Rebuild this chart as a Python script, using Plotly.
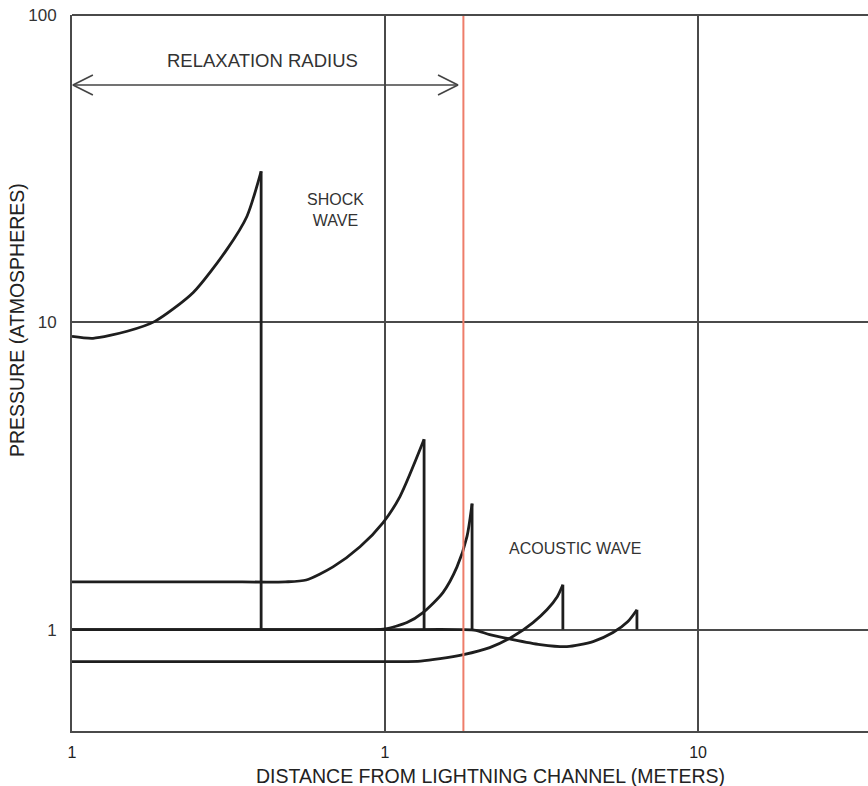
import plotly.graph_objects as go

# Pressure profiles behind the lightning shock (distance in metres, pressure in atm)
shock_x = [0.100, 0.1167, 0.150, 0.184, 0.244, 0.313, 0.362, 0.402]
shock_p = [9.0, 8.87, 9.35, 10.07, 12.5, 17.3, 22.1, 31.0]

second_x = [0.100, 0.30, 0.48, 0.560, 0.682, 0.832, 0.986, 1.116, 1.333]
second_p = [1.43, 1.43, 1.43, 1.45, 1.60, 1.86, 2.23, 2.71, 4.16]

third_x = [0.100, 0.50, 0.90, 1.0, 1.175, 1.322, 1.531, 1.698, 1.828, 1.897]
third_p = [1.0, 1.0, 1.0, 1.005, 1.054, 1.136, 1.32, 1.60, 2.01, 2.57]

acoustic1_x = [0.100, 0.60, 1.10, 1.30, 1.50, 1.78, 2.16, 2.56, 2.97, 3.29, 3.55, 3.70]
acoustic1_p = [0.787, 0.787, 0.787, 0.790, 0.804, 0.829, 0.874, 0.949, 1.054, 1.16, 1.28, 1.40]

acoustic2_x = [0.100, 1.0, 1.75, 1.95, 2.16, 2.56, 3.13, 3.81, 4.62, 5.35, 5.97, 6.38]
acoustic2_p = [1.0, 1.0, 1.0, 0.995, 0.963, 0.928, 0.894, 0.880, 0.914, 0.978, 1.062, 1.16]

ambient_p = 1.0          # every front drops back to ambient pressure
relaxation_radius = 1.78
arrow_x = [0.1007, 1.71]
arrow_p = 59.2

x_tickvals = [0.1, 1, 10]
x_ticktext = ["1", "1", "10"]
y_tickvals = [1, 10, 100]
y_ticktext = ["1", "10", "100"]

INK = "#1e1e1e"
GRID = "#4a4a4a"
TEXT = "#333333"
FONT = "Liberation Sans, Arial, sans-serif"

fig = go.Figure()

for xs, ps in [(shock_x, shock_p), (second_x, second_p), (third_x, third_p),
               (acoustic1_x, acoustic1_p), (acoustic2_x, acoustic2_p)]:
    # smooth rising profile
    fig.add_trace(go.Scatter(x=xs, y=ps, mode="lines",
                             line=dict(color=INK, width=2.8, shape="spline", smoothing=0.7),
                             hoverinfo="skip", showlegend=False))
    # abrupt pressure jump at the front
    fig.add_trace(go.Scatter(x=[xs[-1], xs[-1]], y=[ps[-1], ambient_p], mode="lines",
                             line=dict(color=INK, width=2.8),
                             hoverinfo="skip", showlegend=False))

# relaxation radius marker
fig.add_shape(type="line", xref="x", yref="paper",
              x0=relaxation_radius, x1=relaxation_radius, y0=0, y1=1,
              line=dict(color="#ee7d6a", width=2))

# double-headed arrow with open chevron heads
head_dx = 1.158   # multiplicative offset in log-x
head_dy = 1.078   # multiplicative offset in log-y
fig.add_trace(go.Scatter(x=arrow_x, y=[arrow_p, arrow_p], mode="lines",
                         line=dict(color="#444444", width=1.6),
                         hoverinfo="skip", showlegend=False))
for tip, fx in [(arrow_x[0], head_dx), (arrow_x[1], 1 / head_dx)]:
    fig.add_trace(go.Scatter(x=[tip * fx, tip, tip * fx],
                             y=[arrow_p * head_dy, arrow_p, arrow_p / head_dy],
                             mode="lines", line=dict(color="#444444", width=1.6),
                             hoverinfo="skip", showlegend=False))

# top border
fig.add_shape(type="line", xref="paper", yref="paper", x0=0, x1=1, y0=1, y1=1,
              line=dict(color=GRID, width=2))


# plot area spans 72..868 px horizontally and 15..731 px vertically
def px(x):
    return (x - 72) / 796


def py(y):
    return (731 - y) / 716


centre = dict(showarrow=False, xref="paper", yref="paper", xanchor="center", yanchor="middle")
fig.add_annotation(text="RELAXATION RADIUS", x=px(262), y=py(60),
                   font=dict(size=18.5, color=TEXT, family=FONT), **centre)
fig.add_annotation(text="SHOCK<br>WAVE", x=px(335), y=py(210),
                   font=dict(size=16, color=TEXT, family=FONT), align="center", **centre)
fig.add_annotation(text="ACOUSTIC WAVE", x=px(575), y=py(548),
                   font=dict(size=16, color=TEXT, family=FONT), **centre)

title_font = dict(size=19.5, color="#222222", family=FONT)
fig.add_annotation(text="DISTANCE FROM LIGHTNING CHANNEL (METERS)", x=px(490), y=py(776),
                   font=title_font, **centre)
fig.add_annotation(text="PRESSURE (ATMOSPHERES)", x=px(17), y=py(320),
                   font=title_font, textangle=-90, **centre)

fig.update_layout(
    width=868, height=786,
    margin=dict(l=72, r=0, t=15, b=55),
    paper_bgcolor="white", plot_bgcolor="white",
    font=dict(family=FONT, color=TEXT, size=16),
    xaxis=dict(type="log", range=[-1, 1.543],
               tickvals=x_tickvals, ticktext=x_ticktext,
               showgrid=True, gridcolor=GRID, gridwidth=1.5,
               showline=True, linecolor=GRID, linewidth=2,
               zeroline=False, ticks="", ticklabelstandoff=6,
               tickfont=dict(size=16, color="#222222")),
    yaxis=dict(type="log", range=[-0.33, 2.0],
               tickvals=y_tickvals, ticktext=y_ticktext,
               showgrid=True, gridcolor=GRID, gridwidth=1.5,
               showline=True, linecolor=GRID, linewidth=2,
               zeroline=False, ticks="", ticklabelstandoff=10,
               tickfont=dict(size=17, color=TEXT)),
)

fig.write_html("out.html")
